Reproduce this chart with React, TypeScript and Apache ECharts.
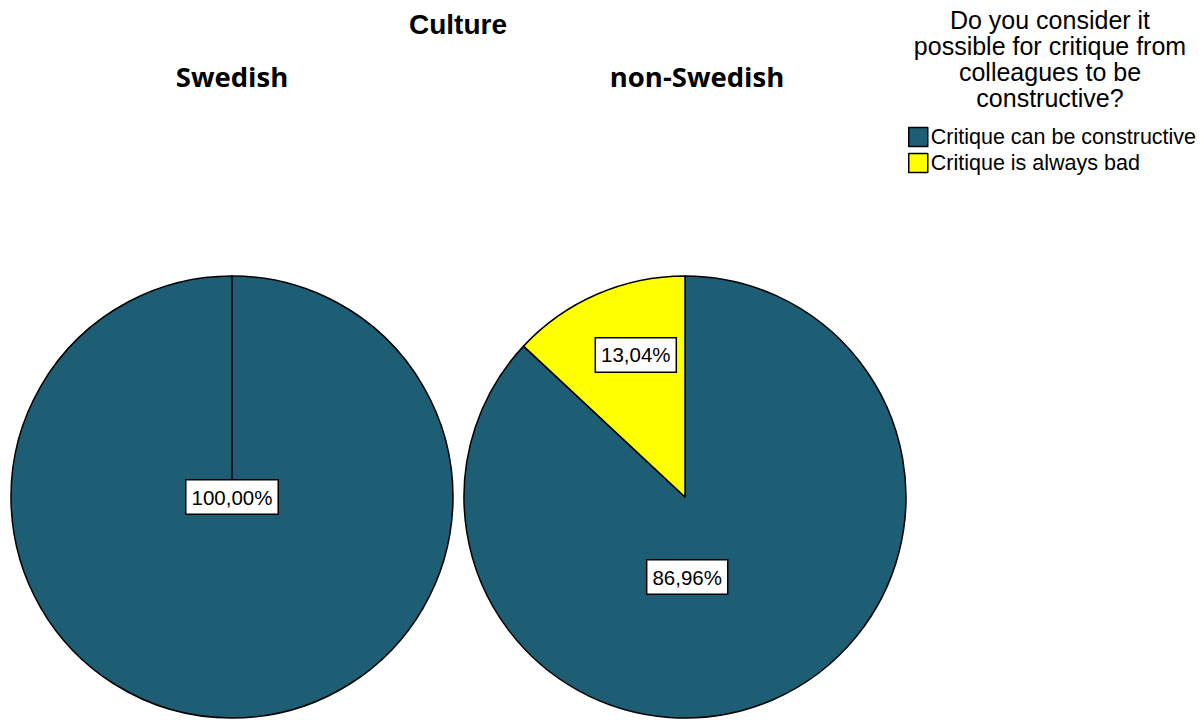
import React, { useEffect, useRef } from "react";
import * as echarts from "echarts";

const categories = ["Critique can be constructive", "Critique is always bad"];
const groups = ["Swedish", "non-Swedish"];
const swedishValues = [100.0, 0];
const nonSwedishValues = [86.96, 13.04];
const colors = ["#1D5E74", "#FFFF00"];
const legendTitle = "Do you consider it\npossible for critique from\ncolleagues to be\nconstructive?";
const mainTitle = "Culture";

const fmt = (v: number) => v.toFixed(2).replace(".", ",") + "%";

export default function App() {
  const ref = useRef<HTMLDivElement>(null);
  useEffect(() => {
    if (!ref.current) return;
    const chart = echarts.init(ref.current, undefined, { renderer: "svg" });
    const labelBase = {
      show: true,
      formatter: (p: any) => fmt(p.value),
      color: "#000",
      fontFamily: "Liberation Sans, Arial, sans-serif",
      fontSize: 20.5,
      backgroundColor: "#fff",
      borderColor: "#000",
      borderWidth: 1.5,
      padding: [7, 5, 5, 5],
    };
    const makeData = (vals: number[], labelCfg: any[]) =>
      vals.map((v, i) => ({
        name: categories[i],
        value: v,
        itemStyle: { color: colors[i] },
        label: labelCfg[i],
      }));
    const option: any = {
      animation: false,
      backgroundColor: "#fff",
      title: [
        {
          text: mainTitle,
          left: 458,
          top: 10,
          padding: 0,
          textAlign: "center",
          textStyle: { fontFamily: "Liberation Sans, Arial, sans-serif", fontWeight: "bold", fontSize: 28, color: "#000" },
        },
        {
          text: groups[0],
          left: 232,
          top: 62,
          padding: 0,
          textAlign: "center",
          textStyle: { fontFamily: "Open Sans, sans-serif", fontWeight: "bold", fontSize: 27.5, color: "#000" },
        },
        {
          text: groups[1],
          left: 697,
          top: 62,
          padding: 0,
          textAlign: "center",
          textStyle: { fontFamily: "Open Sans, sans-serif", fontWeight: "bold", fontSize: 27.5, color: "#000" },
        },
        {
          text: legendTitle,
          left: 1050,
          top: 7,
          padding: 0,
          textAlign: "center",
          textStyle: { fontFamily: "Liberation Sans, Arial, sans-serif", fontWeight: "normal", fontSize: 25, lineHeight: 26, color: "#000" },
        },
      ],
      legend: {
        orient: "vertical",
        left: 908,
        top: 126,
        padding: 0,
        itemGap: 4,
        itemWidth: 19,
        itemHeight: 19,
        icon: "rect",
        data: categories,
        selectedMode: false,
        itemStyle: { borderColor: "#000", borderWidth: 1.5 },
        textStyle: { fontFamily: "Liberation Sans, Arial, sans-serif", fontSize: 21.5, color: "#000", padding: [0, 0, 0, -2] },
      },
      series: [
        {
          type: "pie",
          name: groups[0],
          center: [232, 497],
          radius: 221,
          startAngle: 90,
          clockwise: true,
          avoidLabelOverlap: false,
          labelLine: { show: false },
          itemStyle: { borderColor: "#000", borderWidth: 1.5 },
          emphasis: { disabled: true },
          label: labelBase,
          data: makeData(swedishValues, [{ position: "center" }, { show: false }]),
        },
        {
          type: "pie",
          name: groups[1],
          center: [685, 497],
          radius: 221,
          startAngle: 90,
          clockwise: true,
          avoidLabelOverlap: false,
          labelLine: { show: false },
          itemStyle: { borderColor: "#000", borderWidth: 1.5 },
          emphasis: { disabled: true },
          label: { ...labelBase, position: "inside" },
          data: makeData(nonSwedishValues, [{ offset: [-43, -24] }, { offset: [-4, -38] }]),
        },
      ],
    };
    chart.setOption(option);
    return () => chart.dispose();
  }, []);
  return <div ref={ref} style={{ position: "absolute", left: 0, top: 0, width: 1204, height: 720 }} />;
}
